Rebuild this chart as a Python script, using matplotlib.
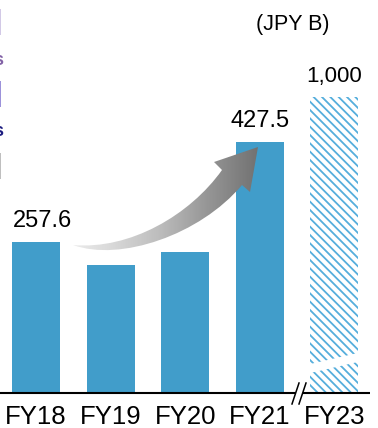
import numpy as np
import matplotlib.pyplot as plt
from matplotlib.path import Path
from matplotlib.patches import PathPatch, Polygon

plt.rcParams['font.family'] = ['Liberation Sans', 'DejaVu Sans']
plt.rcParams['hatch.linewidth'] = 1.3

# data (JPY B)
years = ["FY18", "FY19", "FY20", "FY21", "FY23"]
values = [257.6, 218.0, 240.0, 427.5]
labels = ["257.6", None, None, "427.5"]
target = 1000
target_label = "1,000"
target_shown = 504   # height drawn on the broken axis

bar_color = "#419dca"
hatch_color = "#55aedc"

W, H = 378, 428
fig = plt.figure(figsize=(W / 100, H / 100), dpi=100)
base = 393
scale = 0.587  # px per unit
ax = fig.add_axes([0, (H - base) / H, 1, base / H])
spacing = 74.6
ax.set_xlim(-36 / spacing, (W - 36) / spacing)
ax.set_ylim(0, base / scale)
for s in ax.spines.values():
    s.set_visible(False)
ax.set_yticks([])

x = np.arange(len(values))
ax.bar(x, values, width=0.643, color=bar_color, linewidth=0)
ax.bar(len(values), target_shown, width=0.643, facecolor="white",
       edgecolor=hatch_color, linewidth=0, hatch="\\\\\\\\")

ax.set_xticks(range(len(years)))
ax.set_xticklabels(years, fontsize=18.5)
ax.tick_params(axis="x", length=0, pad=9)

off = 15 / scale
for i, (v, lab) in enumerate(zip(values, labels)):
    if lab:
        dx = 0.09 if i == 0 else 0
        ax.text(i + dx, v + off, lab, ha="center", va="baseline", fontsize=17)
ax.text(len(values), target_shown + off, target_label, ha="center",
        va="baseline", fontsize=16)

# overlay in pixel coordinates for decorations
ov = fig.add_axes([0, 0, 1, 1], zorder=5)
ov.set_xlim(0, W)
ov.set_ylim(H, 0)
ov.axis("off")
ov.patch.set_alpha(0)

# axis line with break
ov.plot([0, 296], [base, base], color="black", lw=1.5, solid_capstyle="butt")
ov.plot([303, 370], [base, base], color="black", lw=1.5, solid_capstyle="butt")
ov.plot([292, 299], [404, 383], color="black", lw=1.1)
ov.plot([299, 306], [404, 383], color="black", lw=1.1)

# white gap through the hatched bar
ov.add_patch(Polygon([(306, 365), (362, 352), (362, 361), (306, 374)],
                     closed=True, facecolor="white", edgecolor="none"))

# curved gradient arrow
verts = [(73, 245),
         (130, 250), (190, 215), (222, 170),
         (214, 162), (258, 147), (250, 192), (242, 185),
         (200, 235), (120, 262), (73, 245),
         (73, 245)]
codes = [Path.MOVETO,
         Path.CURVE4, Path.CURVE4, Path.CURVE4,
         Path.LINETO, Path.LINETO, Path.LINETO, Path.LINETO,
         Path.CURVE4, Path.CURVE4, Path.CURVE4,
         Path.CLOSEPOLY]
arrow = PathPatch(Path(verts, codes), facecolor="none", edgecolor="none")
ov.add_patch(arrow)
grad = np.linspace(0, 1, 256).reshape(1, -1)
img = ov.imshow(grad, extent=(70, 260, 265, 145), cmap="Greys",
                vmin=-0.3, vmax=1.75, aspect="auto", interpolation="bicubic")
img.set_clip_path(arrow)
ov.set_xlim(0, W)
ov.set_ylim(H, 0)

# unit
ov.text(293, 24, "(JPY B)", ha="center", va="center", fontsize=15.5)

# clipped text remnants at the left edge
rem = [("|", 22, "#b8aad8", 20), ("s", 60, "#8262a6", 13),
       ("|", 94, "#6252c4", 20), ("s", 132, "#1c1c80", 13),
       ("|", 166, "#9a9a9a", 20)]
for t, yy, c, fs in rem:
    ov.text(3, yy, t, ha="right", va="center", color=c, fontsize=fs,
            fontweight="bold")

fig.savefig("out.png", dpi=100)
